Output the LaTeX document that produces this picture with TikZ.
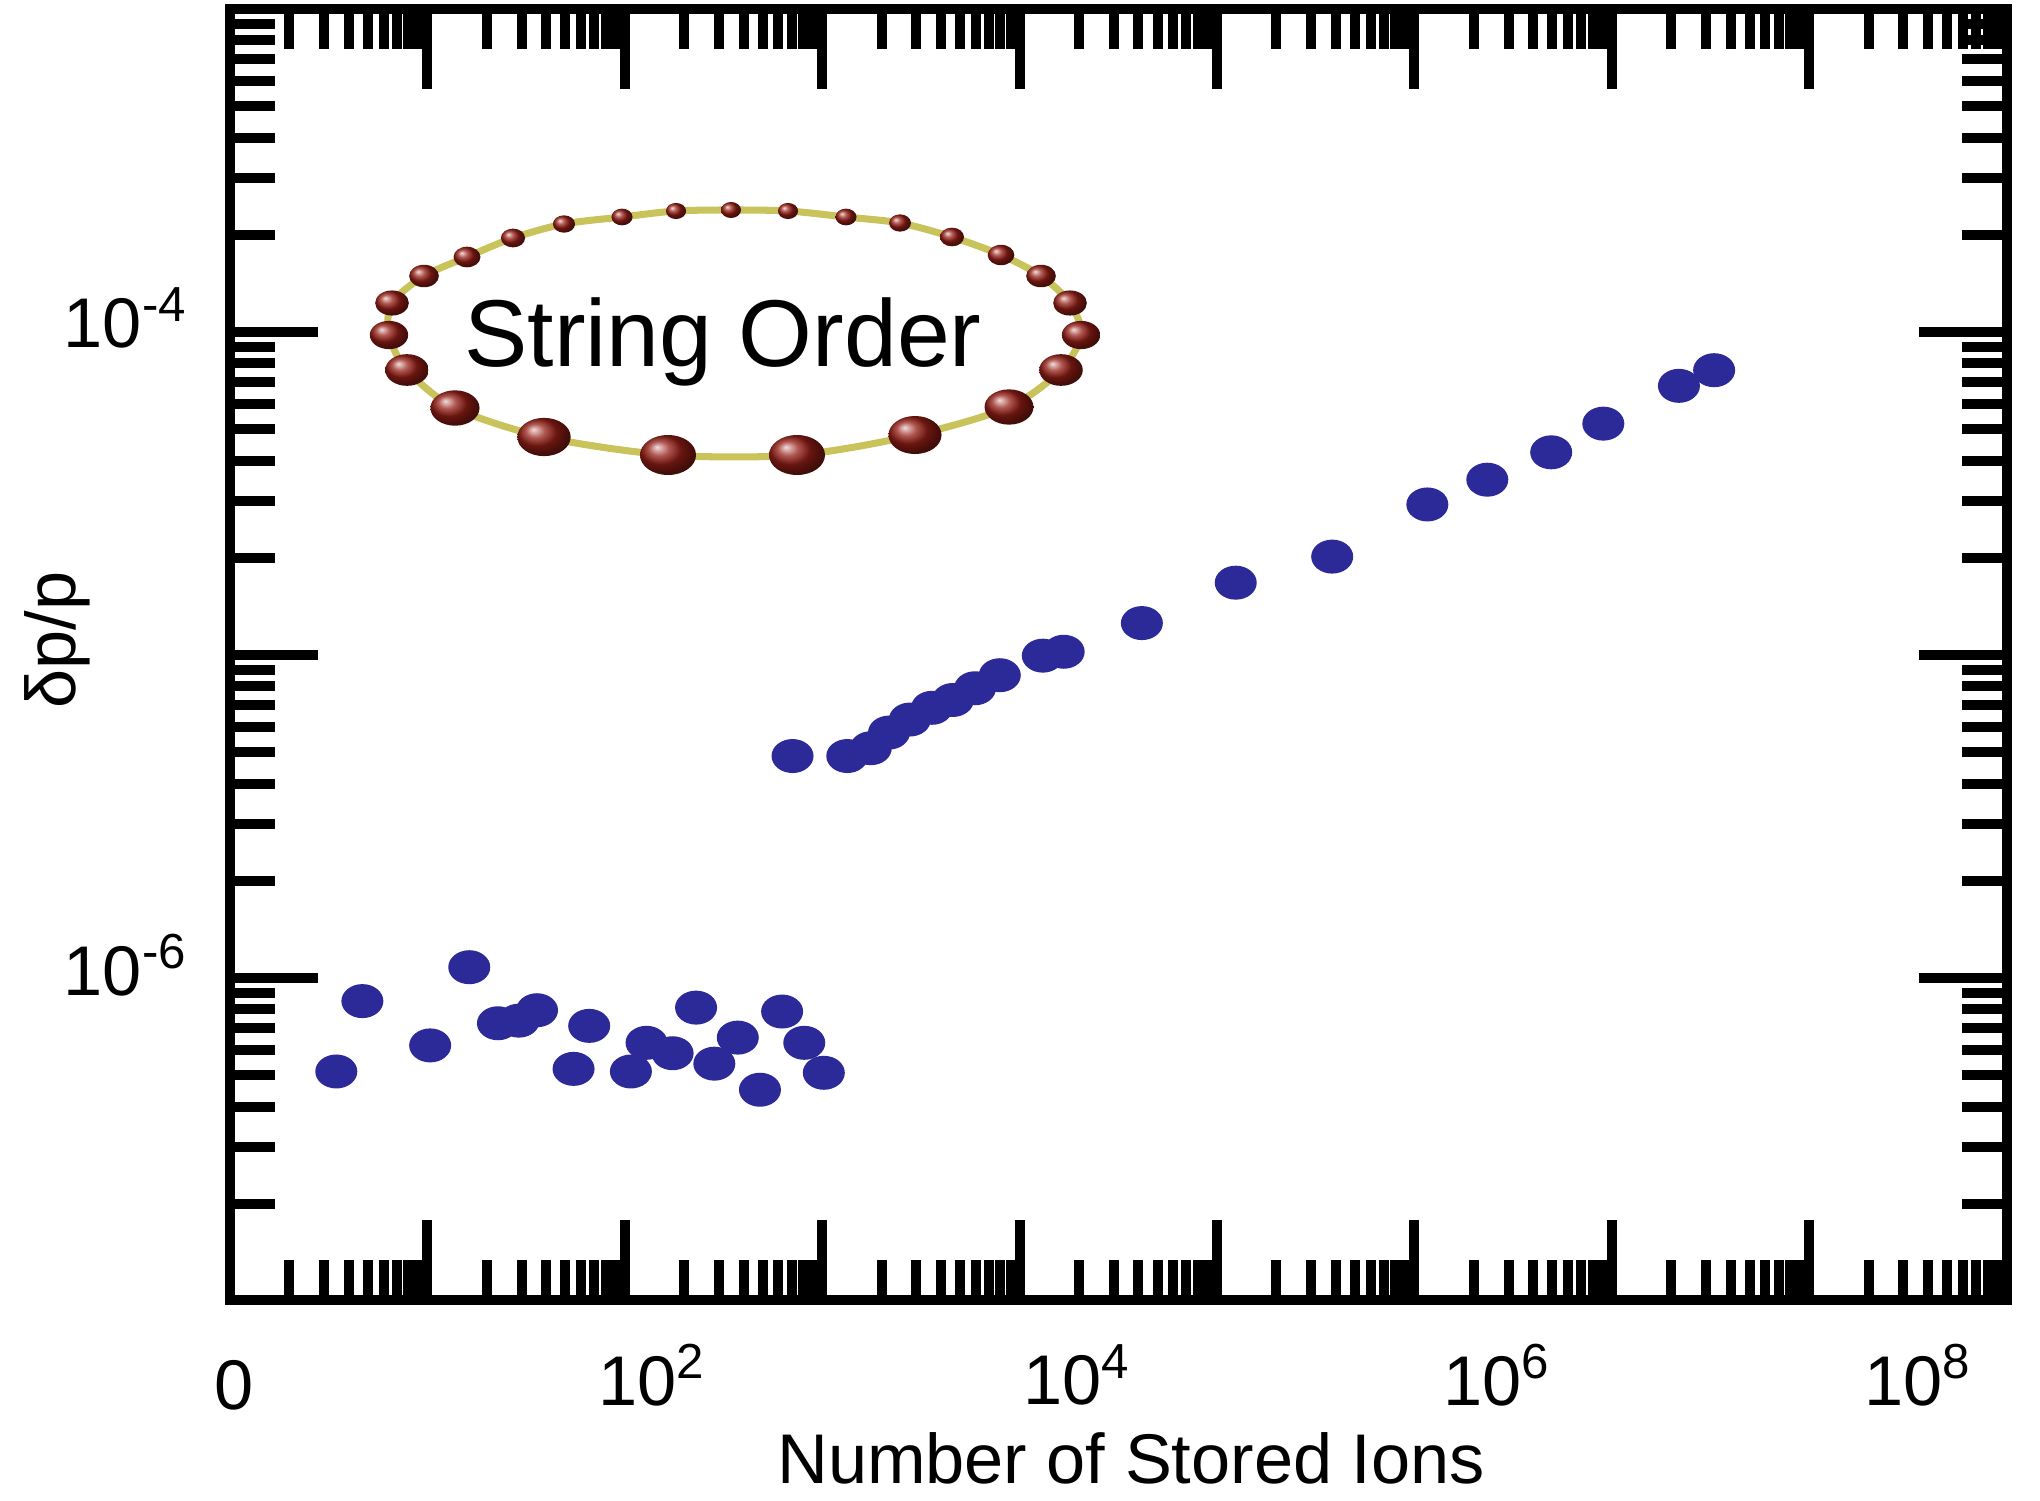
\documentclass[tikz,border=0pt]{standalone}
\usepackage{fontspec}
\setmainfont{Liberation Sans}
\begin{document}
\begin{tikzpicture}[x=0.01cm,y=-0.01cm,
  tk/.style={line width=0.1cm,line cap=butt},
  dot/.style={fill=dotblue},
  lbl/.style={font=\fontsize{20}{23}\selectfont}]
\definecolor{dotblue}{RGB}{44,42,152}
\definecolor{bead}{RGB}{150,30,22}
\definecolor{wire}{RGB}{200,195,90}
\useasboundingbox (0,0) rectangle (2040,1500);
% ticks x
\foreach \d in {0,...,8}{
  \pgfmathsetmacro{\X}{230+197.4*\d}
  \ifnum\d>0
   \draw[tk] (\X,1300) -- (\X,1220);
   \draw[tk] (\X,9) -- (\X,89);
  \fi
  \foreach \m in {2,...,9}{
    \pgfmathsetmacro{\X}{230+197.4*(\d+ln(\m)/ln(10))}
    \draw[tk] (\X,1300) -- (\X,1260);
    \draw[tk] (\X,9) -- (\X,49);
  }
}
% ticks y
\foreach \k in {0,...,3}{
  \pgfmathsetmacro{\Y}{9+323*(1+\k)}
  \ifnum\k<3
   \draw[tk] (230,\Y) -- (318,\Y);
   \draw[tk] (2007,\Y) -- (1919,\Y);
  \fi
  \foreach \m in {2,...,9}{
    \pgfmathsetmacro{\Y}{9+323*(1+\k-ln(\m)/ln(10))}
    \draw[tk] (230,\Y) -- (275,\Y);
    \draw[tk] (2007,\Y) -- (1962,\Y);
  }
}
\draw[line width=0.1cm] (230,9) rectangle (2007,1300);
% tick labels
\node[lbl] (x0) at (234,1385) {0};
\node[lbl] (x2) at (652,1375) {10\textsuperscript{2}};
\node[lbl] (x4) at (1077,1375) {10\textsuperscript{4}};
\node[lbl] (x6) at (1497,1375) {10\textsuperscript{6}};
\node[lbl] (x8) at (1918,1375) {10\textsuperscript{8}};
\node[lbl,anchor=east] (y4) at (200,318) {10\textsuperscript{-4}};
\node[lbl,anchor=east] (y6) at (200,965) {10\textsuperscript{-6}};
\node[lbl] (xl) at (1131,1458) {Number of Stored Ions};
\node[lbl,rotate=90] (yl) at (57,640) {δp/p};
% data
\foreach \x/\y in {258/822,278/768,330/802,360/742,382/785,398/783,412/775,440/820,452/787,484/822,496/800,516/808,534/773,548/816,566/796,583/836,600/776,617/800,632/823,
 608/580,650/580,668/574,682/562,698/552,715/543,731/537,748/528,767/518,800/503,816/500,876/478,948/447,1022/427,1095/387,1141/368,1190/347,1230/325,1288/296,1315/284}
  \fill[dot] (\x*1.3035,\y*1.3035) ellipse [x radius=21, y radius=17];
% inset
\draw[wire,line width=2] plot[smooth cycle] coordinates {(731,210)(788,211)(846,217)(900,223)(952,237)(1001,255)(1041,276)(1070,303)(1081,335)(1061,370)(1009,407)(915,435)(797,455)(668,455)(544,437)(455,408)(407,370)(389,335)(392,303)(424,276)(467,257)(513,238)(564,224)(622,217)(676,211)};
\foreach \x/\y in {731/210,676/211,788/211,622/217,846/217,564/224,900/223,513/238,952/237,467/257,1001/255,424/276,1041/276,392/303,1070/303,389/335,1081/335,407/370,1061/370,455/408,1009/407,544/437,915/435,668/455,797/455}{
  \pgfmathsetmacro{\rx}{10+18*(\y-210)/245}
  \pgfmathsetmacro{\ry}{8+12*(\y-210)/245}
  \shade[ball color=bead] (\x,\y) ellipse [x radius=\rx, y radius=\ry];
}
\node[font=\fontsize{27}{31}\selectfont] (so) at (723,342) {String Order};
\end{tikzpicture}
\end{document}
